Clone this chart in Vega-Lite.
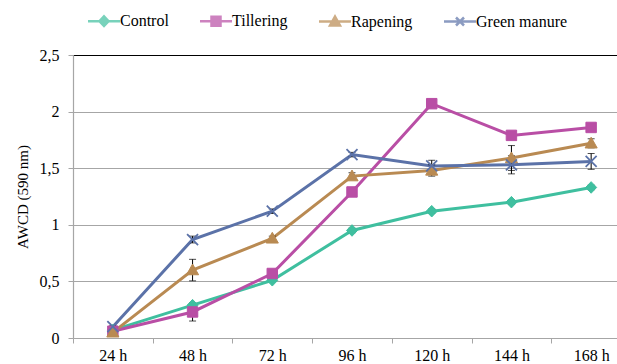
{
  "$schema": "https://vega.github.io/schema/vega-lite/v6.json",
  "width": 544,
  "height": 283,
  "autosize": {"type": "none"},
  "padding": {"left": 73, "top": 55, "right": 0, "bottom": 26},
  "background": "white",
  "config": {
    "view": {"stroke": null},
    "font": "Liberation Serif",
    "legend": {
      "title": null,
      "orient": "none",
      "legendX": 23,
      "legendY": -42,
      "direction": "horizontal",
      "columnPadding": 26,
      "padding": 0,
      "labelFont": "Liberation Serif",
      "labelFontSize": 16,
      "labelColor": "#000000",
      "labelOffset": 8,
      "symbolSize": 100,
      "symbolStrokeWidth": 2.5
    }
  },
  "data": {
    "values": [
      {"series": "Control", "time": "24 h", "hour": 24, "value": 0.07, "err": 0.01},
      {"series": "Control", "time": "48 h", "hour": 48, "value": 0.29, "err": 0.02},
      {"series": "Control", "time": "72 h", "hour": 72, "value": 0.51, "err": 0.01},
      {"series": "Control", "time": "96 h", "hour": 96, "value": 0.95, "err": 0.02},
      {"series": "Control", "time": "120 h", "hour": 120, "value": 1.12, "err": 0.02},
      {"series": "Control", "time": "144 h", "hour": 144, "value": 1.2, "err": 0.02},
      {"series": "Control", "time": "168 h", "hour": 168, "value": 1.33, "err": 0.02},
      {"series": "Tillering", "time": "24 h", "hour": 24, "value": 0.06, "err": 0.01},
      {"series": "Tillering", "time": "48 h", "hour": 48, "value": 0.23, "err": 0.08},
      {"series": "Tillering", "time": "72 h", "hour": 72, "value": 0.57, "err": 0.02},
      {"series": "Tillering", "time": "96 h", "hour": 96, "value": 1.29, "err": 0.02},
      {"series": "Tillering", "time": "120 h", "hour": 120, "value": 2.07, "err": 0.02},
      {"series": "Tillering", "time": "144 h", "hour": 144, "value": 1.79, "err": 0.02},
      {"series": "Tillering", "time": "168 h", "hour": 168, "value": 1.86, "err": 0.02},
      {"series": "Rapening", "time": "24 h", "hour": 24, "value": 0.05, "err": 0.01},
      {"series": "Rapening", "time": "48 h", "hour": 48, "value": 0.6, "err": 0.095},
      {"series": "Rapening", "time": "72 h", "hour": 72, "value": 0.88, "err": 0.02},
      {"series": "Rapening", "time": "96 h", "hour": 96, "value": 1.43, "err": 0.03},
      {"series": "Rapening", "time": "120 h", "hour": 120, "value": 1.48, "err": 0.05},
      {"series": "Rapening", "time": "144 h", "hour": 144, "value": 1.59, "err": 0.11},
      {"series": "Rapening", "time": "168 h", "hour": 168, "value": 1.72, "err": 0.04},
      {"series": "Green manure", "time": "24 h", "hour": 24, "value": 0.1, "err": 0.01},
      {"series": "Green manure", "time": "48 h", "hour": 48, "value": 0.87, "err": 0.03},
      {"series": "Green manure", "time": "72 h", "hour": 72, "value": 1.12, "err": 0.02},
      {"series": "Green manure", "time": "96 h", "hour": 96, "value": 1.62, "err": 0.02},
      {"series": "Green manure", "time": "120 h", "hour": 120, "value": 1.52, "err": 0.05},
      {"series": "Green manure", "time": "144 h", "hour": 144, "value": 1.53, "err": 0.08},
      {"series": "Green manure", "time": "168 h", "hour": 168, "value": 1.56, "err": 0.07}
    ]
  },
  "encoding": {
    "x": {
      "field": "time",
      "type": "ordinal",
      "sort": ["24 h", "48 h", "72 h", "96 h", "120 h", "144 h", "168 h"],
      "scale": {"type": "band", "range": [0, 558], "paddingInner": 0, "paddingOuter": 0},
      "axis": {
        "title": null,
        "labelAngle": 0,
        "tickBand": "extent",
        "grid": false,
        "labelFont": "Liberation Serif",
        "labelFontSize": 16,
        "labelColor": "#000000",
        "domainColor": "#A6A6A6",
        "domainWidth": 1.2,
        "tickColor": "#A6A6A6",
        "tickSize": 5,
        "labelPadding": 4
      }
    },
    "y": {
      "field": "value",
      "type": "quantitative",
      "scale": {"domain": [0, 2.5], "nice": false, "zero": true},
      "axis": {
        "title": "AWCD (590 nm)",
        "values": [0, 0.5, 1, 1.5, 2, 2.5],
        "labelExpr": "replace(datum.value + '', '.', ',')",
        "grid": true,
        "gridColor": {"condition": {"test": "datum.value === 2.5", "value": "#000000"}, "value": "#A6A6A6"},
        "gridWidth": 1.2,
        "domainColor": "#A6A6A6",
        "domainWidth": 1.2,
        "tickColor": "#A6A6A6",
        "tickSize": 5,
        "labelFont": "Liberation Serif",
        "labelFontSize": 16,
        "labelColor": "#000000",
        "labelPadding": 9,
        "titleFont": "Liberation Serif",
        "titleFontSize": 15,
        "titleFontWeight": "normal",
        "titleColor": "#000000",
        "titlePadding": 9
      }
    }
  },
  "layer": [
    {
      "transform": [{"filter": "datum.series === 'Control'"}],
      "mark": {"type": "line", "strokeWidth": 3, "color": "#3FBF9F"},
      "encoding": {"order": {"field": "hour", "type": "quantitative"}}
    },
    {
      "transform": [{"filter": "datum.series === 'Tillering'"}],
      "mark": {"type": "line", "strokeWidth": 3, "color": "#B94EA5"},
      "encoding": {"order": {"field": "hour", "type": "quantitative"}}
    },
    {
      "transform": [{"filter": "datum.series === 'Rapening'"}],
      "mark": {"type": "line", "strokeWidth": 3, "color": "#B98A52"},
      "encoding": {"order": {"field": "hour", "type": "quantitative"}}
    },
    {
      "transform": [{"filter": "datum.series === 'Green manure'"}],
      "mark": {"type": "line", "strokeWidth": 3, "color": "#5B72A8"},
      "encoding": {"order": {"field": "hour", "type": "quantitative"}}
    },
    {
      "mark": {"type": "errorbar", "ticks": {"size": 7}, "color": "#000000", "thickness": 1},
      "encoding": {
        "y": {"field": "value", "type": "quantitative"},
        "yError": {"field": "err"}
      }
    },
    {
      "transform": [{"filter": "datum.series === 'Control'"}],
      "mark": {"type": "point", "filled": true, "size": 121, "strokeWidth": 1, "opacity": 1, "color": "#3FBF9F", "stroke": "#3FBF9F", "shape": "M0,-1.05L1,0L0,1.05L-1,0Z"},
      "encoding": {}
    },
    {
      "transform": [{"filter": "datum.series === 'Tillering'"}],
      "mark": {"type": "point", "filled": true, "size": 121, "strokeWidth": 1, "opacity": 1, "color": "#B94EA5", "stroke": "#B94EA5", "shape": "M-0.95,-0.95L0.95,-0.95L0.95,0.95L-0.95,0.95Z"},
      "encoding": {}
    },
    {
      "transform": [{"filter": "datum.series === 'Rapening'"}],
      "mark": {"type": "point", "filled": true, "size": 121, "strokeWidth": 1, "opacity": 1, "color": "#B98A52", "stroke": "#B98A52", "shape": "M0,-1.1L1.1,0.85L-1.1,0.85Z"},
      "encoding": {}
    },
    {
      "transform": [{"filter": "datum.series === 'Green manure'"}],
      "mark": {"type": "point", "filled": true, "size": 121, "strokeWidth": 1.8, "opacity": 1, "color": "#5B72A8", "stroke": "#5B72A8", "shape": "M-1,-1L1,1M-1,1L1,-1"},
      "encoding": {}
    },
    {
      "transform": [{"filter": "false"}],
      "mark": {"type": "point", "filled": true, "size": 100, "strokeWidth": 2.5},
      "encoding": {
        "color": {
          "field": "series",
          "type": "nominal",
          "scale": {"domain": ["Control", "Tillering", "Rapening", "Green manure"], "range": ["#3FBF9F", "#B94EA5", "#B98A52", "#5B72A8"]},
          "legend": {
            "title": null,
            "orient": "none",
            "legendX": 23,
            "legendY": -42,
            "direction": "horizontal",
            "columnPadding": 26,
            "padding": 0,
            "labelFont": "Liberation Serif",
            "labelFontSize": 16,
            "labelColor": "#000000",
            "labelOffset": 8,
            "symbolSize": 100,
            "symbolStrokeWidth": 2.5,
            "encode": {"labels": {"font": {"value": "Liberation Serif"}, "fontSize": {"value": 16}}}
          }
        },
        "stroke": {
          "field": "series",
          "type": "nominal",
          "scale": {"domain": ["Control", "Tillering", "Rapening", "Green manure"], "range": ["#3FBF9F", "#B94EA5", "#B98A52", "#5B72A8"]}
        },
        "shape": {
          "field": "series",
          "type": "nominal",
          "scale": {
            "domain": ["Control", "Tillering", "Rapening", "Green manure"],
            "range": [
              "M-3.2,0L3.2,0M0,-0.95L0.9,0L0,0.95L-0.9,0Z",
              "M-3.2,0L3.2,0M-0.9,-0.9L0.9,-0.9L0.9,0.9L-0.9,0.9Z",
              "M-3.2,0L3.2,0M0,-1L1,0.8L-1,0.8Z",
              "M-3.2,0L3.2,0M-0.8,-0.8L0.8,0.8M-0.8,0.8L0.8,-0.8"
            ]
          }
        }
      }
    }
  ]
}
